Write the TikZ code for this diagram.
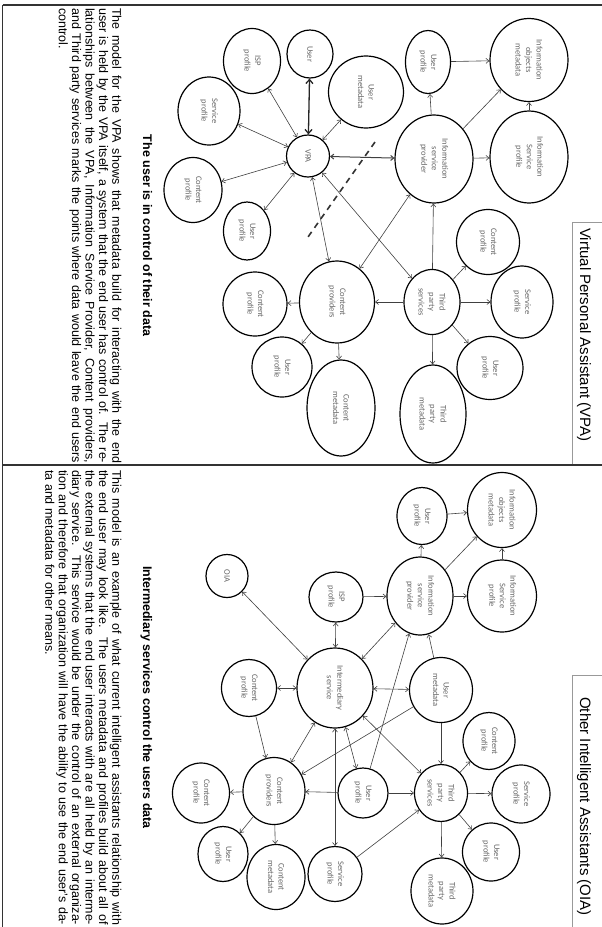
\documentclass[tikz,border=0pt]{standalone}
\usepackage{fontspec}
\setmainfont{Liberation Sans}
\newfontfamily\kis{Carlito}
\usetikzlibrary{arrows.meta,shapes.geometric}
\tikzset{
  kor/.style={ellipse,draw,line width=1.2pt,inner sep=0pt,rotate=-90,align=center,
    font=\kis\fontsize{8.5}{10.5}\selectfont,text=black!60},
  egy/.style={-{Straight Barb[length=3pt,width=5pt]},draw=black!75,line width=0.6pt},
  ket/.style={{Straight Barb[length=3pt,width=5pt]}-{Straight Barb[length=3pt,width=5pt]},
    draw=black!75,line width=0.6pt},
  ketvast/.style={{Straight Barb[length=4pt,width=7pt]}-{Straight Barb[length=4pt,width=7pt]},
    draw=black!85,line width=1.3pt},
  cim/.style={rotate=-90,anchor=base west,inner sep=0pt,font=\fontsize{15}{18}\selectfont},
  alcim/.style={rotate=-90,anchor=base,inner sep=0pt,font=\bfseries\fontsize{12.5}{15}\selectfont},
  szov/.style={rotate=-90,anchor=north west,inner sep=0pt,text width=455pt,align=justify,
    font=\fontsize{12.5}{13.4}\selectfont},
}
\begin{document}
\begin{tikzpicture}[x=1pt,y=1pt]
  \useasboundingbox (0,0) rectangle (602,-927);
  % frame and title boxes
  \draw[black!80,line width=0.8pt] (2.5,-927) -- (2.5,-5);
  \draw[black!80,line width=1.6pt] (2.5,-5) -- (602,-5);
  \draw[black!80,line width=2.2pt] (2.5,-465) -- (602,-465);
  \draw[black!40,line width=0.6pt] (602,-222) -- (572,-222) -- (572,-464);
  \draw[black!40,line width=0.6pt] (602,-675) -- (572,-675) -- (572,-927);
  \node[cim] (vCim) at (580,-228) {Virtual Personal Assistant (VPA)};
  \node[cim] (oCim) at (580,-697) {Other Intelligent Assistants (OIA)};

  % VPA model
  \foreach \nev/\x/\y/\dx/\dy/\txt in {
    vUser/310/54/46/48/User, vVPA/308/156/43/42/VPA,
    vUmeta/366/92/75/72/{User\\metadata}, vISP/252/61/57/65/{ISP\\profile},
    vSvc/209/111/62/68/{Service\\profile}, vCpL/193/190/58/65/{Content\\profile},
    vUpL/247/231/47/58/{User\\profile}, vCpB/255/304/64/64/{Content\\profile},
    vUpB/282/367/60/60/{User\\profile}, vCprov/337/302/75/82/{Content\\providers},
    vCmeta/341/408/68/96/{Content\\metadata}, vTps/432/302/56/65/{Third\\party\\services},
    vTpm/433/414/66/98/{Third\\party\\metadata}, vUpR/490/368/66/63/{User\\profile},
    vSpR/522/302/62/72/{Service\\profile}, vCpR/488/242/63/65/{Content\\profile},
    vIsp/434/159/78/88/{Information\\service\\provider},
    vIsprof/529/157/78/92/{Information\\Service\\profile},
    vUpT/428/62/45/63/{User\\profile}, vIom/529/60/78/83/{Information\\objects\\metadata}}
    \node[kor,minimum width=\dy,minimum height=\dx] (\nev) at (\x,-\y) {\txt};
  \draw[ketvast] (vUser) -- (vVPA);
  \draw[ket,line width=1pt] (vVPA) -- (vIsp);
  \foreach \a/\b in {vVPA/vUmeta, vVPA/vISP, vVPA/vSvc, vVPA/vCpL, vVPA/vUpL,
    vVPA/vCprov, vVPA/vTps, vIsp/vCprov}
    \draw[ket] (\a) -- (\b);
  \foreach \a/\b in {vTps/vIsp, vIsp/vUpT, vUpT/vIom, vIsp/vIom, vIsp/vIsprof,
    vIsprof/vIom, vTps/vCpR, vTps/vSpR, vTps/vUpR, vTps/vTpm, vTps/vCprov,
    vCprov/vCmeta, vCprov/vUpB, vCprov/vCpB}
    \draw[egy] (\a) -- (\b);
  \coordinate (vHatar1) at (375,-142);
  \coordinate (vHatar2) at (308,-237);
  \draw[black!80,line width=1.6pt,dash pattern=on 6pt off 5pt] (vHatar1) -- (vHatar2);
  \node[alcim] (vAlcim) at (143,-235.5) {The user is in control of their data};
  \node[szov] (vSzov) at (121.7,-8) {The model for the VPA shows that metadata build for
    interacting with the end\linebreak user is held by the VPA itself, a system that the
    end user has control of. The re-\linebreak lationships between the VPA, Information
    Service Provider, Content providers,\linebreak and Third party services marks the
    points where data would leave the end users\linebreak control.};

  % OIA model
  \foreach \nev/\x/\y/\dx/\dy/\txt in {
    oIom/502/510/69/75/{Information\\objects\\metadata}, oUpT/422/516/50/57/{User\\profile},
    oIsprof/502/596/69/72/{Information\\Service\\profile},
    oIsp/420/596/66/78/{Information\\service\\provider}, oISP/336/597/54/50/{ISP\\profile},
    oInt/335/688/76/80/{Intermediary\\service}, oUmeta/441/690/63/65/{User\\metadata},
    oCpR/489/741/52/57/{Content\\profile}, oTps/441/793/53/57/{Third\\party\\services},
    oSpR/521/794/58/58/{Service\\profile}, oUpR/491/852/57/58/{User\\profile},
    oTpm/442/891/62/66/{Third\\party\\metadata}, oUpM/363/793/50/50/{User\\profile},
    oSpB/335/874/54/55/{Service\\profile}, oCprov/274/791/62/67/{Content\\providers},
    oCmeta/276/877/58/65/{Content\\metadata}, oUpB/223/854/50/55/{User\\profile},
    oCpB/201/793/57/60/{Content\\profile}, oCpL/249/688/55/57/{Content\\profile},
    oOIA/227/576/42/43/OIA}
    \node[kor,minimum width=\dy,minimum height=\dx] (\nev) at (\x,-\y) {\txt};
  \foreach \a/\b in {oInt/oOIA, oInt/oCpL, oInt/oCprov, oInt/oISP, oInt/oIsp,
    oInt/oUmeta, oInt/oUpM, oInt/oTps, oInt/oSpB}
    \draw[ket] (\a) -- (\b);
  \foreach \a/\b in {oCpL/oCprov, oCprov/oCpB, oCprov/oUpB, oCprov/oCmeta, oISP/oIsp,
    oIsp/oUpT, oUpT/oIom, oIsp/oIom, oIsp/oIsprof, oIsprof/oIom, oUmeta/oIsp,
    oUmeta/oTps, oUmeta/oCprov, oUpM/oIsp, oUpM/oTps, oUpM/oCprov, oSpB/oTps,
    oTps/oCpR, oTps/oSpR, oTps/oUpR, oTps/oTpm}
    \draw[egy] (\a) -- (\b);
  \node[alcim] (oAlcim) at (143,-697.5) {Intermediary services control the users data};
  \node[szov] (oSzov) at (121.7,-470) {This model is an example of what current intelligent
    assistants relationship with\linebreak the end user may look like. The users metadata and
    profiles build about all of\linebreak the external systems that the end user interacts
    with are all held by an interme-\linebreak diary service. This service would be under the
    control of an external organiza-\linebreak tion and therefore that organization will
    have the ability to use the end user's da-\linebreak ta and metadata for other means.};
\end{tikzpicture}
\end{document}
